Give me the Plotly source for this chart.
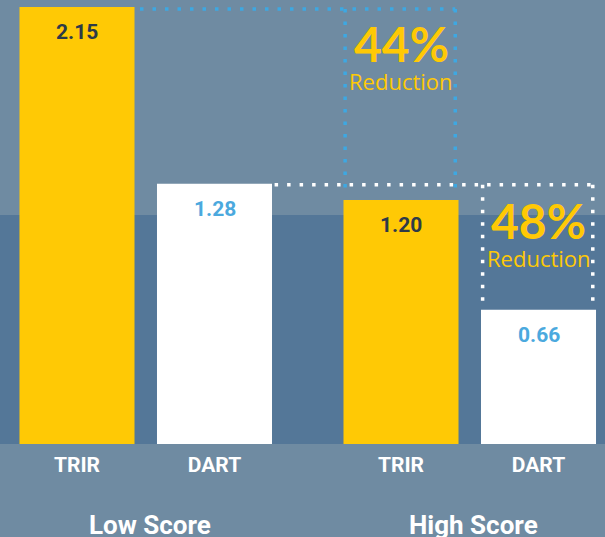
import numpy as np
import plotly.graph_objects as go

# ---- data ----
groups = ["Low Score", "High Score"]
series = ["TRIR", "DART"]
trir = [2.15, 1.20]
dart = [1.28, 0.66]
reductions = ["44%", "48%"]
reduction_word = "Reduction"

# ---- style ----
BG = "#6F8BA2"
BAND = "#547798"
YELLOW = "#FFC905"
WHITE = "#FFFFFF"
DARK = "#2E3A48"
BLUE = "#4BA9DE"
DOT_BLUE = "#3EA8E2"
OFFSET = 0.2122
BAR_W = 0.355
Y_MAX = 2.1844
BAND_TOP = 1.1266

pos = np.arange(len(groups))
x_trir = pos - OFFSET
x_dart = pos + OFFSET

fig = go.Figure()
fig.add_trace(go.Bar(x=x_trir, y=trir, width=BAR_W, marker=dict(color=YELLOW, line=dict(width=0)),
                     name=series[0], hoverinfo="skip"))
fig.add_trace(go.Bar(x=x_dart, y=dart, width=BAR_W, marker=dict(color=WHITE, line=dict(width=0)),
                     name=series[1], hoverinfo="skip"))

shapes = [dict(type="rect", xref="paper", yref="y", x0=0, x1=1, y0=0, y1=BAND_TOP,
               fillcolor=BAND, line=dict(width=0), layer="below")]


def dotted(x0, y0, x1, y1, color):
    return dict(type="line", xref="x", yref="y", x0=x0, y0=y0, x1=x1, y1=y1,
                line=dict(color=color, width=3.5, dash="3.5px,9px"), layer="above")


half = BAR_W / 2
# blue box: TRIR low -> TRIR high
shapes.append(dotted(x_trir[0] + half + 0.017, trir[0] - 0.01, x_trir[1] + half - 0.01, trir[0] - 0.01, DOT_BLUE))
shapes.append(dotted(x_trir[1] - half + 0.005, trir[0] - 0.01, x_trir[1] - half + 0.005, trir[1] + 0.025, DOT_BLUE))
shapes.append(dotted(x_trir[1] + half - 0.01, trir[0] - 0.01, x_trir[1] + half - 0.01, trir[1] + 0.025, DOT_BLUE))
# white box: DART low -> DART high
shapes.append(dotted(x_dart[0] + half + 0.008, dart[0] - 0.005, x_dart[1] + half, dart[0] - 0.005, WHITE))
shapes.append(dotted(x_dart[1] - half + 0.005, dart[0] - 0.005, x_dart[1] - half + 0.005, dart[1] + 0.025, WHITE))
shapes.append(dotted(x_dart[1] + half - 0.01, dart[0] - 0.005, x_dart[1] + half - 0.01, dart[1] + 0.025, WHITE))

ann = []
# value labels
for xs, ys, col in ((x_trir, trir, DARK), (x_dart, dart, BLUE)):
    for xv, yv in zip(xs, ys):
        ann.append(dict(x=xv, y=yv, xref="x", yref="y", text=f"{yv:.2f}", showarrow=False,
                        yanchor="middle", yshift=-25,
                        font=dict(family="Roboto", size=21, color=col, weight="bold")))
# reduction texts
for xv, top, txt in ((x_trir[1], trir[0], reductions[0]), (x_dart[1], dart[0], reductions[1])):
    ann.append(dict(x=xv, y=top, xref="x", yref="y", text=txt, showarrow=False,
                    yanchor="middle", yshift=-37,
                    font=dict(family="Lato", size=48, color=YELLOW, weight="bold")))
    ann.append(dict(x=xv, y=top, xref="x", yref="y", text=reduction_word, showarrow=False,
                    yanchor="middle", yshift=-74,
                    font=dict(family="Open Sans", size=22, color=YELLOW)))
# group labels
for xv, g in zip(pos, groups):
    ann.append(dict(x=xv, y=-0.183, xref="x", yref="paper", text=g, showarrow=False,
                    yanchor="middle", xshift=4,
                    font=dict(family="Roboto", size=26, color=WHITE, weight="bold")))

fig.update_layout(
    width=605, height=537,
    margin=dict(l=0, r=0, t=0, b=93, pad=0),
    paper_bgcolor=BG, plot_bgcolor="rgba(0,0,0,0)",
    showlegend=False, barmode="overlay",
    shapes=shapes, annotations=ann,
    xaxis=dict(range=[-0.4498, 1.4174], showgrid=False, zeroline=False, showline=False,
               ticks="", tickvals=list(x_trir) + list(x_dart),
               ticktext=[series[0]] * len(groups) + [series[1]] * len(groups),
               tickfont=dict(family="Roboto", size=21, color=WHITE, weight="bold"),
               ticklabelstandoff=6, fixedrange=True),
    yaxis=dict(range=[0, Y_MAX], visible=False, fixedrange=True),
)

fig.write_html("out.html", config={"displayModeBar": False},
               post_script="document.body.style.margin='0';document.body.style.overflow='hidden';")
